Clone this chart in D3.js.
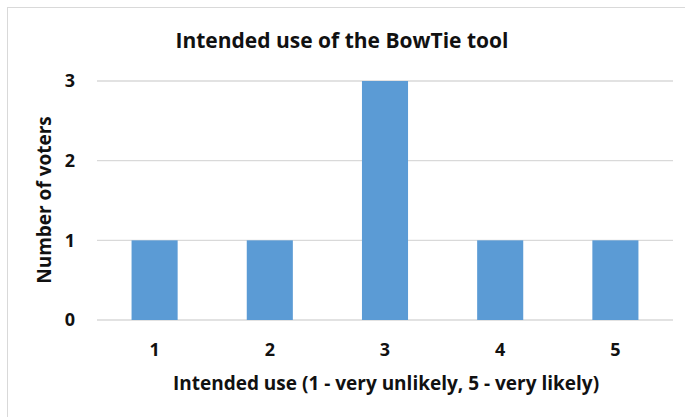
<!DOCTYPE html>
<html>
<head>
<meta charset="utf-8">
<script src="https://cdn.jsdelivr.net/npm/d3@7"></script>
<style>
  body { margin: 0; background: #fff; }
  text { font-family: 'Open Sans', 'Noto Sans', sans-serif; font-weight: bold; fill: #111; }
</style>
</head>
<body>
<svg id="chart" width="685" height="417"></svg>
<script>
const categories = ['1', '2', '3', '4', '5']
const voters = [1, 1, 3, 1, 1]
const yTicks = [0, 1, 2, 3]
const title = 'Intended use of the BowTie tool'
const xTitle = 'Intended use (1 - very unlikely, 5 - very likely)'
const yTitle = 'Number of voters'

const margin = { top: 81, right: 12, bottom: 97, left: 97 }
const w = 685
const h = 417
const width = w - margin.left - margin.right
const height = 320 - margin.top

const svg = d3.select('#chart')

svg.append('rect')
  .attr('x', 7.5).attr('y', 7.5)
  .attr('width', w).attr('height', h)
  .attr('fill', 'none').attr('stroke', '#d9d9d9')

const x = d3.scaleBand().domain(categories).range([0, width]).paddingInner(0.6).paddingOuter(0.3)
const y = d3.scaleLinear().domain([0, 3]).range([height, 0])

const g = svg.append('g').attr('transform', `translate(${margin.left},${margin.top})`)

g.append('g').attr('class', 'grid')
  .selectAll('line').data(yTicks).enter().append('line')
  .attr('x1', 0).attr('x2', width)
  .attr('y1', d => y(d)).attr('y2', d => y(d))
  .attr('stroke', '#d9d9d9').attr('stroke-width', 1.3)

g.selectAll('.bar').data(voters).enter().append('rect')
  .attr('class', 'bar')
  .attr('x', (d, i) => x(categories[i]))
  .attr('width', x.bandwidth())
  .attr('y', d => y(d))
  .attr('height', d => y(0) - y(d))
  .attr('fill', '#5b9bd5')

const axisX = d3.axisBottom(x).tickSize(0).tickPadding(23)
g.append('g').attr('transform', `translate(0,${height})`).call(axisX)
  .call(a => a.select('.domain').remove())
  .selectAll('text').style('font-size', '18px')

const axisY = d3.axisLeft(y).tickValues(yTicks).tickFormat(d3.format('d')).tickSize(0).tickPadding(22)
g.append('g').call(axisY)
  .call(a => a.select('.domain').remove())
  .selectAll('text').style('font-size', '18px').attr('text-anchor', 'middle').attr('dx', '-5')

svg.append('text')
  .attr('x', 342).attr('y', 48)
  .attr('text-anchor', 'middle')
  .style('font-size', '21px')
  .text(title)

svg.append('text')
  .attr('x', 386).attr('y', 390)
  .attr('text-anchor', 'middle')
  .style('font-size', '19px')
  .text(xTitle)

svg.append('text')
  .attr('transform', 'translate(51,200) rotate(-90)')
  .attr('text-anchor', 'middle')
  .style('font-size', '19px')
  .text(yTitle)
</script>
</body>
</html>
